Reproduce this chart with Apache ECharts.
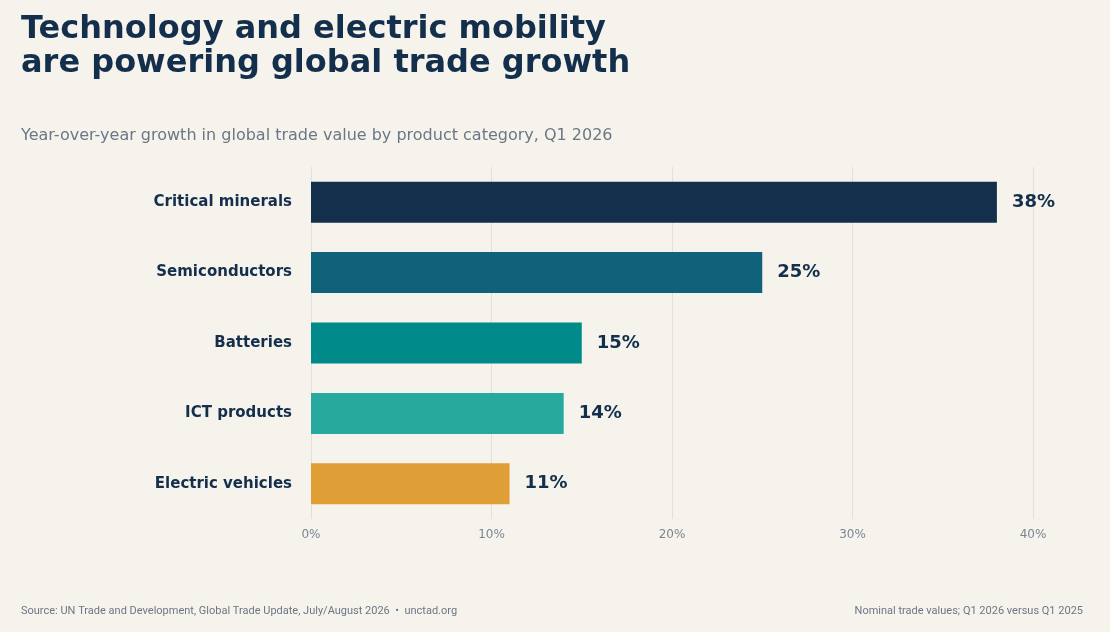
<!DOCTYPE html>
<html><head><meta charset="utf-8">
<script src="https://cdn.jsdelivr.net/npm/echarts@6/dist/echarts.min.js"></script>
<style>html,body{margin:0;padding:0;background:#f6f3ed}#c{width:1110px;height:632px}</style>
</head><body><div id="c"></div>
<script>
const categories = ['Critical minerals','Semiconductors','Batteries','ICT products','Electric vehicles'];
const values = [38,25,15,14,11];
const colors = ['#132f4c','#10627a','#008b8a','#28a99e','#e09e36'];
const ticks = [0,10,20,30,40];
const chart = echarts.init(document.getElementById('c'));
chart.setOption({
  backgroundColor:'#f6f3ed',
  textStyle:{fontFamily:'DejaVu Sans'},
  title:[
    {text:'Technology and electric mobility\nare powering global trade growth',left:16,top:8,
     textStyle:{fontSize:32,fontWeight:'bold',color:'#132f4c',lineHeight:34,fontFamily:'DejaVu Sans'}},
    {text:'Year-over-year growth in global trade value by product category, Q1 2026',left:16,top:123,
     textStyle:{fontSize:16,fontWeight:'normal',color:'#6b7785',fontFamily:'DejaVu Sans'}},
    {text:'Source: UN Trade and Development, Global Trade Update, July/August 2026  •  unctad.org',left:16,top:601,
     textStyle:{fontSize:11,fontWeight:'normal',color:'#6b7785',fontFamily:'Roboto'}},
    {text:'Nominal trade values; Q1 2026 versus Q1 2025',right:22,top:601,
     textStyle:{fontSize:11,fontWeight:'normal',color:'#6b7785',fontFamily:'Roboto'}}
  ],
  grid:{left:311,right:77,top:167,bottom:113,containLabel:false},
  xAxis:{type:'value',min:0,max:40,interval:10,
    axisLabel:{formatter:v=>v+'%',color:'#7a8593',fontSize:12,margin:10},
    splitLine:{lineStyle:{color:'#e2e0db'}},axisLine:{show:false},axisTick:{show:false}},
  yAxis:{type:'category',data:categories,inverse:true,
    axisLabel:{color:'#132f4c',fontSize:15,fontWeight:'bold',margin:19},
    axisLine:{show:false},axisTick:{show:false}},
  series:[{type:'bar',barWidth:41,
    data:values.map((v,i)=>({value:v,itemStyle:{color:colors[i]}})),
    label:{show:true,position:'right',distance:15,formatter:p=>p.value+'%',
      color:'#132f4c',fontSize:18,fontWeight:'bold'}}]
});
</script></body></html>
